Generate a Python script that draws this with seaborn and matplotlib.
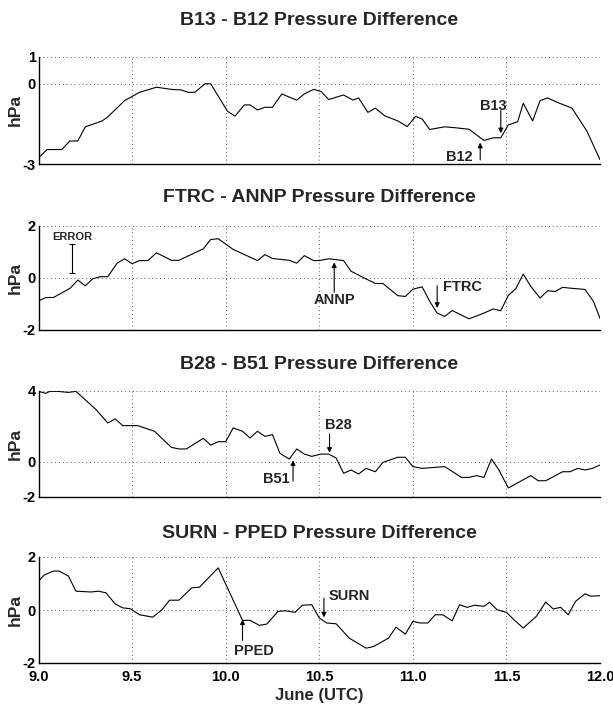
import numpy as np
import pandas as pd
import matplotlib
matplotlib.use("Agg")
import matplotlib.pyplot as plt
import seaborn as sns

# ---------------- data ----------------
p1_t = [9.0, 9.046, 9.125, 9.167, 9.21, 9.25, 9.34, 9.37, 9.46, 9.54, 9.63, 9.71, 9.76, 9.80, 9.835,
        9.89, 9.92, 10.01, 10.05, 10.10, 10.13, 10.17, 10.21, 10.25, 10.30, 10.34, 10.38, 10.42, 10.47,
        10.51, 10.55, 10.63, 10.68, 10.71, 10.76, 10.80, 10.85, 10.92, 10.97, 11.015, 11.05, 11.09,
        11.17, 11.22, 11.30, 11.38, 11.43, 11.47, 11.51, 11.56, 11.59, 11.64, 11.68, 11.72, 11.77,
        11.85, 11.93, 12.0]
p1_v = [-2.77, -2.46, -2.46, -2.14, -2.14, -1.61, -1.39, -1.24, -0.63, -0.32, -0.13, -0.21, -0.23, -0.32,
        -0.32, 0.0, 0.0, -1.03, -1.21, -0.79, -0.79, -0.98, -0.88, -0.88, -0.38, -0.50, -0.61, -0.38,
        -0.21, -0.29, -0.59, -0.42, -0.61, -0.53, -1.07, -0.91, -1.20, -1.39, -1.60, -1.22, -1.32, -1.71,
        -1.61, -1.64, -1.70, -2.12, -2.02, -2.02, -1.54, -1.42, -0.73, -1.39, -0.63, -0.53, -0.69,
        -0.91, -1.77, -2.84]

p2_t = [9.0, 9.04, 9.08, 9.17, 9.21, 9.25, 9.29, 9.33, 9.37, 9.42, 9.46, 9.50, 9.54, 9.585, 9.63, 9.71,
        9.75, 9.88, 9.92, 9.96, 10.04, 10.17, 10.21, 10.25, 10.34, 10.38, 10.42, 10.47, 10.50, 10.55,
        10.63, 10.67, 10.74, 10.80, 10.84, 10.92, 10.96, 11.00, 11.05, 11.09, 11.13, 11.17, 11.21,
        11.30, 11.38, 11.43, 11.47, 11.51, 11.55, 11.59, 11.63, 11.68, 11.72, 11.76, 11.80, 11.84,
        11.92, 11.965, 12.0]
p2_v = [-0.88, -0.75, -0.75, -0.39, -0.08, -0.30, -0.03, 0.05, 0.05, 0.57, 0.74, 0.55, 0.67, 0.67, 0.97,
        0.68, 0.68, 1.12, 1.48, 1.51, 1.10, 0.67, 0.90, 0.75, 0.68, 0.57, 0.86, 0.67, 0.67, 0.74, 0.67,
        0.26, 0.0, -0.21, -0.21, -0.68, -0.71, -0.43, -0.34, -0.90, -1.35, -1.48, -1.25, -1.57, -1.35,
        -1.19, -1.26, -0.67, -0.41, 0.15, -0.32, -0.77, -0.49, -0.52, -0.36, -0.39, -0.44, -0.90, -1.55]

p3_t = [9.0, 9.04, 9.06, 9.10, 9.16, 9.20, 9.24, 9.31, 9.37, 9.41, 9.45, 9.53, 9.62, 9.71, 9.75, 9.79,
        9.88, 9.92, 9.96, 10.00, 10.04, 10.09, 10.13, 10.17, 10.21, 10.25, 10.29, 10.34, 10.38, 10.42,
        10.46, 10.51, 10.55, 10.59, 10.63, 10.67, 10.71, 10.75, 10.80, 10.84, 10.92, 10.96, 11.00,
        11.05, 11.17, 11.26, 11.30, 11.34, 11.38, 11.42, 11.46, 11.51, 11.63, 11.67, 11.71, 11.80,
        11.84, 11.88, 11.92, 11.96, 12.0]
p3_v = [3.98, 3.87, 3.98, 3.98, 3.92, 3.98, 3.6, 2.92, 2.19, 2.42, 2.04, 2.04, 1.72, 0.81, 0.72, 0.72,
        1.32, 0.94, 1.13, 1.13, 1.91, 1.72, 1.34, 1.72, 1.43, 1.53, 0.47, 0.15, 0.72, 0.43, 0.30, 0.43,
        0.43, 0.21, -0.66, -0.47, -0.70, -0.38, -0.57, -0.04, 0.25, 0.25, -0.28, -0.38, -0.28, -0.89,
        -0.89, -0.79, -0.89, 0.15, -0.47, -1.49, -0.79, -1.08, -1.08, -0.57, -0.57, -0.38, -0.47,
        -0.38, -0.19]

p4_t = [9.0, 9.03, 9.08, 9.11, 9.16, 9.20, 9.28, 9.32, 9.36, 9.41, 9.45, 9.49, 9.54, 9.61, 9.66, 9.70,
        9.75, 9.82, 9.86, 9.96, 10.09, 10.13, 10.18, 10.22, 10.28, 10.32, 10.37, 10.41, 10.46, 10.50,
        10.54, 10.59, 10.66, 10.75, 10.79, 10.87, 10.91, 10.96, 11.00, 11.04, 11.08, 11.12, 11.16,
        11.21, 11.25, 11.29, 11.33, 11.38, 11.41, 11.45, 11.50, 11.55, 11.59, 11.66, 11.71, 11.75,
        11.79, 11.83, 11.87, 11.92, 11.95, 12.0]
p4_v = [1.09, 1.32, 1.47, 1.47, 1.28, 0.71, 0.68, 0.71, 0.65, 0.23, 0.08, 0.05, -0.18, -0.27, 0.01,
        0.37, 0.37, 0.84, 0.86, 1.59, -0.39, -0.39, -0.58, -0.53, -0.05, -0.03, -0.09, 0.18, 0.20,
        -0.30, -0.49, -0.52, -1.06, -1.44, -1.38, -1.06, -0.65, -0.91, -0.43, -0.49, -0.49, -0.18,
        -0.18, -0.41, 0.20, 0.10, 0.18, 0.14, 0.29, 0.01, -0.09, -0.43, -0.68, -0.24, 0.30, 0.04, 0.10,
        -0.18, 0.33, 0.61, 0.52, 0.54]

titles = ["B13 - B12 Pressure Difference", "FTRC - ANNP Pressure Difference",
          "B28 - B51 Pressure Difference", "SURN - PPED Pressure Difference"]
ylims = [(-3, 1), (-2, 2), (-2, 4), (-2, 2)]
yticks = [[-3, 0, 1], [-2, 0, 2], [-2, 0, 4], [-2, 0, 2]]
xticks = [9.0, 9.5, 10.0, 10.5, 11.0, 11.5, 12.0]
xticklabels = ["9.0", "9.5", "10.0", "10.5", "11.0", "11.5", "12.0"]

# annotations: (label, arrow x, tail y, tip y, text x, text y, ha)
annots = [
    [("B13", 11.47, -1.0, -1.85, 11.43, -0.82, "center"),
     ("B12", 11.36, -2.85, -2.2, 11.25, -2.72, "center")],
    [("ANNP", 10.58, -0.55, 0.6, 10.58, -0.85, "center"),
     ("FTRC", 11.13, -0.3, -1.15, 11.16, -0.35, "left")],
    [("B28", 10.555, 1.55, 0.5, 10.6, 2.05, "center"),
     ("B51", 10.36, -1.1, 0.08, 10.27, -0.98, "center")],
    [("PPED", 10.09, -1.15, -0.35, 10.15, -1.55, "center"),
     ("SURN", 10.525, 0.45, -0.28, 10.55, 0.52, "left")],
]
error_x, error_lo, error_hi = 9.18, 0.19, 1.29

series = [(p1_t, p1_v), (p2_t, p2_v), (p3_t, p3_v), (p4_t, p4_v)]

# ---------------- style ----------------
sns.set_style("white")
plt.rcParams["font.family"] = ["Liberation Sans", "DejaVu Sans"]
plt.rcParams["font.weight"] = "bold"

fig = plt.figure(figsize=(6.13, 7.09), dpi=100)
W, H = 613, 709
left_px, right_px = 38.5, 600
tops = [57, 226, 391, 557]
bots = [164, 330, 497, 663]
title_pads = [23, 17, 16, 14]

for i in range(4):
    rect = [left_px / W, 1 - bots[i] / H, (right_px - left_px) / W, (bots[i] - tops[i]) / H]
    ax = fig.add_axes(rect)
    df = pd.DataFrame({"t": series[i][0], "v": series[i][1]})
    sns.lineplot(data=df, x="t", y="v", ax=ax, color="black", lw=0.8, estimator=None, sort=False)
    ax.set_xlim(9, 12)
    ax.set_ylim(*ylims[i])
    ax.set_xticks(xticks)
    ax.set_xticks(np.arange(9.25, 12, 0.5), minor=True)
    ax.set_yticks(yticks[i])
    ax.set_yticklabels([str(v) for v in yticks[i]], fontsize=10.5, fontweight="bold")
    if i == 3:
        ax.set_xticklabels(xticklabels, fontsize=10.5, fontweight="bold")
        ax.set_xlabel("June (UTC)", fontsize=12, fontweight="bold", labelpad=3)
    else:
        ax.set_xticklabels([])
        ax.set_xlabel("")
    ax.set_ylabel("hPa", fontsize=12.5, fontweight="bold")
    ax.set_title(titles[i], fontsize=14, fontweight="bold", pad=title_pads[i])
    ax.grid(True, which="major", color="0.35", linestyle=(0, (1, 3)), linewidth=0.7)
    for s in ["top", "right"]:
        ax.spines[s].set_visible(False)
    for s in ["left", "bottom"]:
        ax.spines[s].set_color("black")
        ax.spines[s].set_linewidth(1.0)
    ax.tick_params(axis="both", which="major", direction="in", length=4, width=0.8,
                   colors="black", pad=2)
    ax.tick_params(axis="x", which="minor", direction="in", length=3, width=0.8, colors="black")
    ax.tick_params(axis="x", which="major", pad=5)
    ax.yaxis.set_label_coords(-0.028, 0.5)

    for (lab, ax_x, tail, tip, tx, ty, ha) in annots[i]:
        ax.annotate("", xy=(ax_x, tip), xytext=(ax_x, tail),
                    arrowprops=dict(arrowstyle="-|>", color="black", lw=0.8,
                                    mutation_scale=7, shrinkA=0, shrinkB=0))
        ax.text(tx, ty, lab, ha=ha, va="center", fontsize=10.5, fontweight="bold")
    if i == 1:
        ax.errorbar([error_x], [(error_lo + error_hi) / 2], yerr=[(error_hi - error_lo) / 2],
                    color="black", lw=0.8, capsize=2.5, capthick=0.8, fmt="none")
        ax.text(error_x, error_hi + 0.3, "ERROR", ha="center", va="center", fontsize=8,
                fontweight="bold")

fig.savefig("out.png", dpi=100)
